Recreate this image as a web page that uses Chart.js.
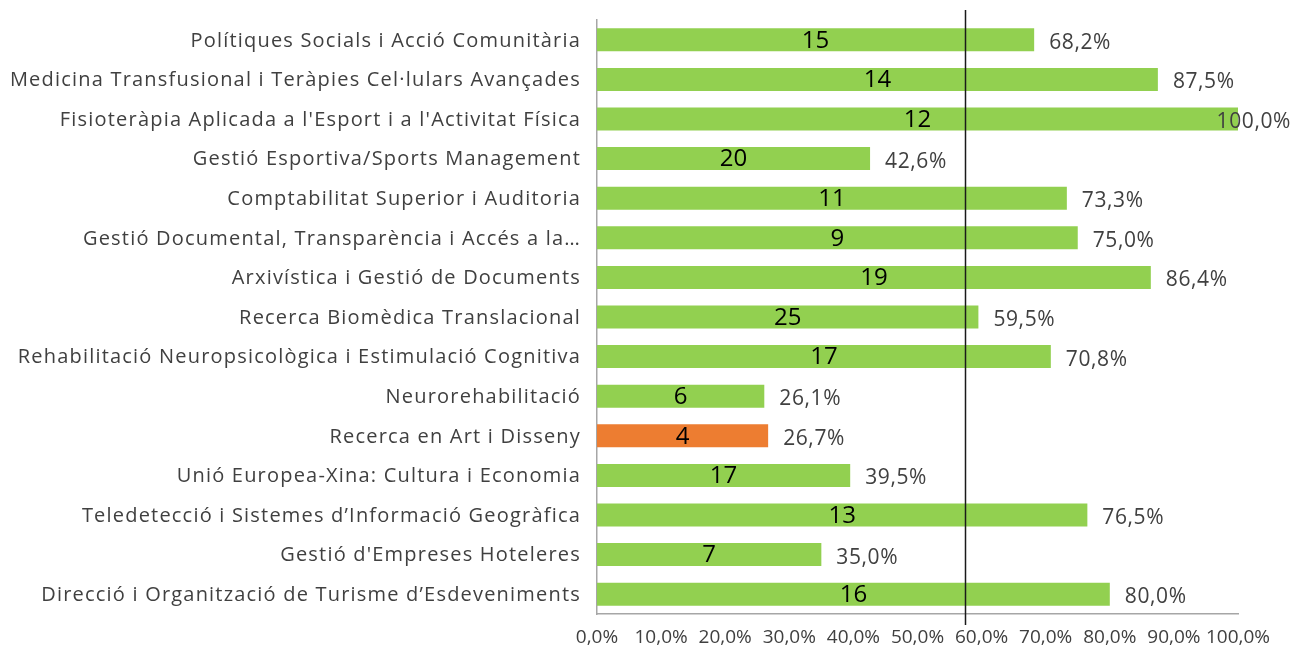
<!DOCTYPE html>
<html>
<head>
<meta charset="utf-8">
<script src="https://cdn.jsdelivr.net/npm/chart.js@4/dist/chart.umd.min.js"></script>
<style>
  html, body { margin: 0; padding: 0; background: #fff; }
  #wrap { width: 1294px; height: 653px; }
</style>
</head>
<body>
<div id="wrap"><canvas id="chart" width="1294" height="653"></canvas></div>
<script>
const categories = [
  "Polítiques Socials i Acció Comunitària",
  "Medicina Transfusional i Teràpies Cel·lulars Avançades",
  "Fisioteràpia Aplicada a l'Esport i a l'Activitat Física",
  "Gestió Esportiva/Sports Management",
  "Comptabilitat Superior i Auditoria",
  "Gestió Documental, Transparència i Accés a la…",
  "Arxivística i Gestió de Documents",
  "Recerca Biomèdica Translacional",
  "Rehabilitació Neuropsicològica i Estimulació Cognitiva",
  "Neurorehabilitació",
  "Recerca en Art i Disseny",
  "Unió Europea-Xina: Cultura i Economia",
  "Teledetecció i Sistemes d’Informació Geogràfica",
  "Gestió d'Empreses Hoteleres",
  "Direcció i Organització de Turisme d’Esdeveniments"
];
const percents = [68.2, 87.5, 100.0, 42.6, 73.3, 75.0, 86.4, 59.5, 70.8, 26.1, 26.7, 39.5, 76.5, 35.0, 80.0];
const counts = [15, 14, 12, 20, 11, 9, 19, 25, 17, 6, 4, 17, 13, 7, 16];
const highlighted = ["Recerca en Art i Disseny"];
const refLine = 57.4;
const xTicks = [0, 10, 20, 30, 40, 50, 60, 70, 80, 90, 100];

const GREEN = "#92D050";
const ORANGE = "#ED7D31";
const TEXT = "#404040";
const FONT = "'Open Sans', 'Noto Sans', sans-serif";

const fmt = v => v.toFixed(1).replace(".", ",") + "%";

const labelPlugin = {
  id: "labels",
  afterDatasetsDraw(chart) {
    const ctx = chart.ctx;
    const meta = chart.getDatasetMeta(0);
    const x = chart.scales.x;
    ctx.save();
    ctx.textBaseline = "middle";
    meta.data.forEach((bar, i) => {
      // category label, left of the axis
      ctx.fillStyle = TEXT;
      ctx.font = "20px " + FONT;
      ctx.letterSpacing = "1.2px";
      ctx.textAlign = "right";
      ctx.fillText(categories[i], x.getPixelForValue(0) - 16, bar.y + 1);
      // count inside the bar
      ctx.fillStyle = "#000";
      ctx.font = "24px " + FONT;
      ctx.letterSpacing = "0px";
      ctx.textAlign = "center";
      ctx.fillText(String(counts[i]), (x.getPixelForValue(0) + bar.x) / 2, bar.y + 1);
      // percent after the bar, kept inside the canvas
      ctx.fillStyle = TEXT;
      ctx.font = "21px " + FONT;
      ctx.letterSpacing = "0.6px";
      ctx.textAlign = "left";
      const txt = fmt(percents[i]);
      const w = ctx.measureText(txt).width;
      const px = Math.min(bar.x + 15, chart.width - 3 - w);
      ctx.fillText(txt, px, bar.y + 3);
    });
    // reference line
    const lx = Math.round(x.getPixelForValue(refLine)) + 0.5;
    ctx.strokeStyle = "#1a1a1a";
    ctx.lineWidth = 1.5;
    ctx.beginPath();
    ctx.moveTo(lx, chart.chartArea.top - 10);
    ctx.lineTo(lx, chart.chartArea.bottom + 11);
    ctx.stroke();
    ctx.restore();
  }
};

new Chart(document.getElementById("chart"), {
  type: "bar",
  data: {
    labels: categories,
    datasets: [{
      data: percents,
      backgroundColor: categories.map(c => highlighted.includes(c) ? ORANGE : GREEN),
      borderWidth: 0,
      barPercentage: 0.58,
      categoryPercentage: 1
    }]
  },
  options: {
    indexAxis: "y",
    responsive: false,
    animation: false,
    layout: { padding: { top: 20, right: 56, bottom: 0, left: 0 } },
    plugins: { legend: { display: false }, tooltip: { enabled: false } },
    scales: {
      x: {
        min: 0,
        max: 100,
        afterBuildTicks: axis => { axis.ticks = xTicks.map(v => ({ value: v })); },
        afterFit: axis => { axis.height = 39; },
        grid: { display: false, drawTicks: false },
        border: { display: true, color: "#A6A6A6", width: 1.5 },
        ticks: {
          callback: v => fmt(v),
          color: TEXT,
          font: { family: FONT, size: 19 },
          padding: 12,
          maxRotation: 0,
          autoSkip: false
        }
      },
      y: {
        afterFit: axis => { axis.width = 597; },
        grid: { display: false, drawTicks: false },
        border: { display: true, color: "#A6A6A6", width: 1.5 },
        ticks: { display: false }
      }
    }
  },
  plugins: [labelPlugin]
});
</script>
</body>
</html>
